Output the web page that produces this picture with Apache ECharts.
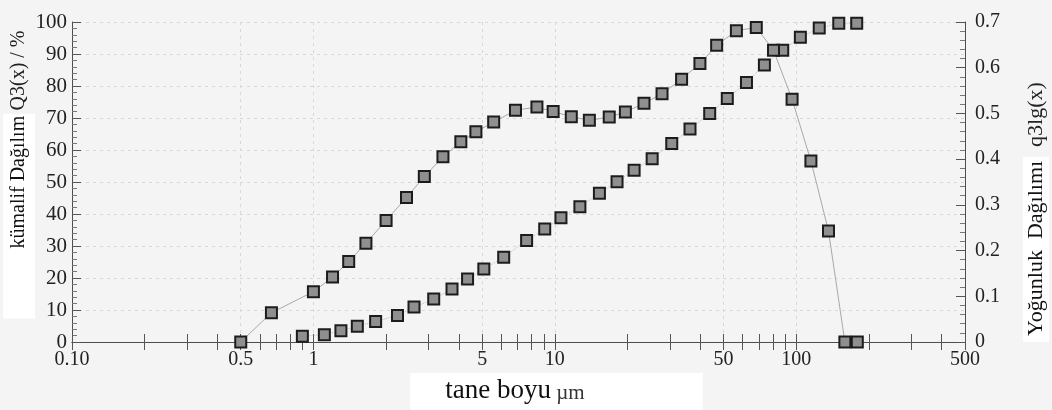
<!DOCTYPE html>
<html>
<head>
<meta charset="utf-8">
<script src="https://cdn.jsdelivr.net/npm/echarts@6/dist/echarts.min.js"></script>
<style>
  html, body { margin: 0; padding: 0; background: #f4f4f4; }
  #chart { width: 1052px; height: 410px; }
</style>
</head>
<body>
<div id="chart"></div>
<script>
// Particle size (µm) and cumulative distribution Q3(x) in %
const sizeQ3 = [0.90, 1.11, 1.30, 1.52, 1.81, 2.23, 2.61, 3.15, 3.75, 4.35,
                5.08, 6.14, 7.64, 9.08, 10.6, 12.7, 15.3, 18.1, 21.3, 25.3,
                30.5, 36.3, 43.8, 51.8, 62.2, 73.8, 87.9, 104, 124.5, 150, 178];
const valQ3 = [1.8, 2.3, 3.5, 4.9, 6.4, 8.3, 10.9, 13.4, 16.6, 19.7,
               22.8, 26.5, 31.7, 35.3, 38.8, 42.3, 46.5, 50.1, 53.7, 57.3,
               62.0, 66.6, 71.4, 76.1, 81.1, 86.6, 91.2, 95.2, 98.1, 99.6, 99.6];

// Particle size (µm) and density distribution q3lg(x)
const sizeQ3lg = [0.5, 0.67, 1.0, 1.2, 1.4, 1.65, 2.0, 2.43, 2.88, 3.44,
                  4.08, 4.71, 5.58, 6.87, 8.43, 9.84, 11.7, 13.9, 16.8, 19.6,
                  23.4, 27.8, 33.5, 39.9, 46.8, 56.5, 68.3, 80.5, 96.1, 115,
                  136, 159, 179];
const valQ3lg = [0, 0.064, 0.110, 0.142, 0.176, 0.216, 0.266, 0.316, 0.362, 0.405,
                 0.438, 0.460, 0.481, 0.507, 0.514, 0.504, 0.493, 0.485, 0.492, 0.503,
                 0.522, 0.543, 0.575, 0.609, 0.649, 0.681, 0.688, 0.638, 0.531, 0.396,
                 0.243, 0, 0];

// Labelled positions on the logarithmic size axis
const xTickValues = [0.1, 0.5, 1, 5, 10, 50, 100, 500];
const xTickLabels = ['0.10', '0.5', '1', '5', '10', '50', '100', '500'];

// Minor tick positions: 1..9 times each decade up to 500
const xMinorTicks = [];
[0.1, 1, 10, 100].forEach(d => {
  for (let k = 1; k <= 9; k++) {
    if (k * d <= 500) xMinorTicks.push(+(k * d).toPrecision(3));
  }
});

const serif = '"Liberation Serif", "DejaVu Serif", serif';
const ink = '#222';
const axisInk = '#4d4d4d';
const guide = { color: '#d8d8d8', type: [3, 4], width: 1 };

function xLabel(v) {
  const i = xTickValues.findIndex(t => Math.abs(t - v) / t < 1e-6);
  return i >= 0 ? xTickLabels[i] : '';
}

const chart = echarts.init(document.getElementById('chart'), null, { renderer: 'canvas' });

chart.setOption({
  backgroundColor: '#f4f4f4',
  animation: false,
  grid: { left: 72, right: 87, top: 22, bottom: 68, outerBoundsMode: 'none' },
  xAxis: [
    {
      type: 'log', logBase: 10, min: 0.1, max: 500, position: 'bottom',
      axisLine: { show: true, lineStyle: { color: axisInk, width: 1 } },
      axisTick: { show: true, inside: true, length: 8, customValues: xMinorTicks,
                  lineStyle: { color: '#555' } },
      minorTick: { show: false },
      axisLabel: { show: true, customValues: xTickValues, formatter: xLabel, margin: 8,
                   fontFamily: serif, fontSize: 20, color: ink },
      splitLine: { show: false },
      name: '{a|tane boyu}{b| µm}',
      nameLocation: 'middle', nameGap: 31, nameMoveOverlap: false,
      nameTextStyle: {
        padding: [0, 0, 0, 76],
        rich: {
          a: { fontFamily: serif, fontSize: 27, color: '#111', backgroundColor: '#fff',
               padding: [4, 0, 8, 35] },
          b: { fontFamily: serif, fontSize: 21, color: '#333', backgroundColor: '#fff',
               padding: [10, 118, 8, 0] }
        }
      }
    },
    {
      type: 'log', logBase: 10, min: 0.1, max: 500, position: 'top',
      axisLine: { show: true, lineStyle: { color: axisInk, width: 1 } },
      axisTick: { show: true, inside: true, length: 8, customValues: xMinorTicks,
                  lineStyle: { color: '#555' } },
      axisLabel: { show: false },
      splitLine: { show: false }
    },
    {
      // faint vertical guide lines at the labelled sizes
      type: 'log', logBase: 10, min: 0.1, max: 500, position: 'bottom',
      axisLine: { show: false },
      axisTick: { show: false, customValues: xTickValues },
      axisLabel: { show: false },
      splitLine: { show: true, lineStyle: guide }
    }
  ],
  yAxis: [
    {
      type: 'value', min: 0, max: 100, interval: 10, position: 'left',
      axisLine: { show: true, lineStyle: { color: axisInk, width: 1 } },
      axisTick: { show: true, inside: true, length: 9, lineStyle: { color: '#555' } },
      minorTick: { show: true, splitNumber: 5, length: 5, lineStyle: { color: '#777' } },
      axisLabel: { margin: 5, fontFamily: serif, fontSize: 21, color: ink },
      splitLine: { show: true, lineStyle: guide },
      name: '{k|kümalif Dağılım} {q|Q3(x) / %}',
      nameLocation: 'middle', nameRotate: 90, nameGap: 37, nameMoveOverlap: false,
      nameTextStyle: {
        padding: [0, 0, 0, 15],
        rich: {
          k: { fontFamily: serif, fontSize: 20, color: '#111', backgroundColor: '#fff',
               padding: [6, 2, 6, 70] },
          q: { fontFamily: serif, fontSize: 20, color: '#222' }
        }
      }
    },
    {
      type: 'value', min: 0, max: 0.7, interval: 0.1, position: 'right',
      axisLine: { show: true, lineStyle: { color: axisInk, width: 1 } },
      axisTick: { show: true, inside: true, length: 9, lineStyle: { color: '#555' } },
      minorTick: { show: true, splitNumber: 5, length: 5, lineStyle: { color: '#777' } },
      axisLabel: { margin: 10, fontFamily: serif, fontSize: 20, color: ink,
                   formatter: v => (Math.round(v * 10) / 10).toString() },
      splitLine: { show: false },
      name: '{a|Yoğunluk  Dağılımı}   {b|q3lg(x)}',
      nameLocation: 'middle', nameRotate: 90, nameGap: 58, nameMoveOverlap: false,
      nameTextStyle: {
        padding: [0, 60, 0, 0],
        rich: {
          a: { fontFamily: serif, fontSize: 22, color: '#111', backgroundColor: '#fff',
               padding: [2, 4, 2, 6] },
          b: { fontFamily: serif, fontSize: 22, color: '#222' }
        }
      }
    }
  ],
  series: [
    {
      name: 'Q3(x)', type: 'line', xAxisIndex: 0, yAxisIndex: 0,
      data: sizeQ3.map((x, i) => [x, valQ3[i]]),
      symbol: 'rect', symbolSize: 11,
      lineStyle: { color: '#bdbdbd', width: 1, type: 'dotted' },
      itemStyle: { color: '#8f8f8f', borderColor: '#1c1c1c', borderWidth: 2 },
      z: 3
    },
    {
      name: 'q3lg(x)', type: 'line', xAxisIndex: 0, yAxisIndex: 1,
      data: sizeQ3lg.map((x, i) => [x, valQ3lg[i]]),
      symbol: 'rect', symbolSize: 11,
      lineStyle: { color: '#a8a8a8', width: 1 },
      itemStyle: { color: '#8f8f8f', borderColor: '#1c1c1c', borderWidth: 2 },
      z: 3
    }
  ]
});
</script>
</body>
</html>
